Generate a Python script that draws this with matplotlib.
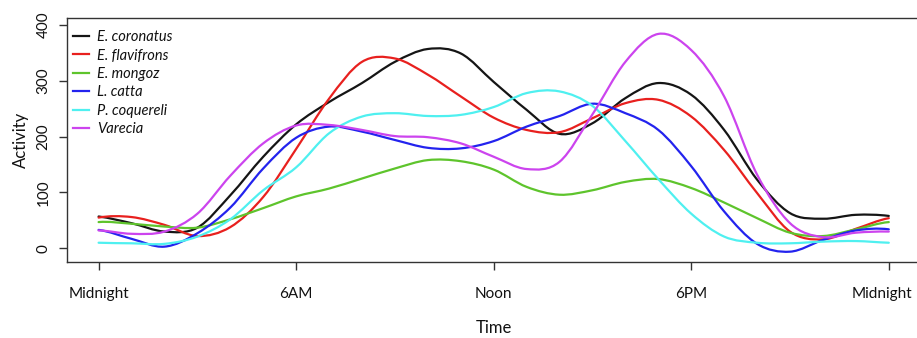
import matplotlib
matplotlib.use("Agg")
import matplotlib.pyplot as plt
from matplotlib.path import Path
from matplotlib.patches import PathPatch
from matplotlib.lines import Line2D
import matplotlib.transforms as mtransforms

plt.rcParams['font.family'] = ['Lato', 'DejaVu Sans']

hours = list(range(0, 25))
tick_hours = [0, 6, 12, 18, 24]
tick_labels = ["Midnight", "6AM", "Noon", "6PM", "Midnight"]
y_ticks = [0, 100, 200, 300, 400]

species = ["E. coronatus", "E. flavifrons", "E. mongoz", "L. catta", "P. coquereli", "Varecia"]
colors = ["#151515", "#e8201e", "#5ec42c", "#2323ee", "#4ff0f0", "#cc44ee"]

e_coronatus = [57, 45, 30, 37, 95, 164, 222, 262, 296, 334, 357, 349, 298, 248, 205, 224, 269, 296, 275, 212, 123, 63, 53, 60, 58]
e_flavifrons = [55, 56, 42, 22, 38, 92, 178, 268, 334, 340, 311, 272, 234, 212, 208, 233, 260, 266, 236, 176, 99, 30, 16, 35, 54]
e_mongoz = [47, 44, 39, 37, 52, 72, 93, 107, 125, 143, 158, 156, 141, 110, 96, 104, 119, 124, 108, 82, 54, 28, 22, 34, 47]
l_catta = [33, 17, 3, 27, 73, 143, 198, 218, 209, 194, 180, 179, 192, 218, 237, 259, 242, 212, 147, 66, 8, -6, 15, 32, 34]
p_coquereli = [10, 9, 8, 21, 52, 104, 145, 206, 236, 242, 237, 239, 253, 278, 281, 255, 192, 124, 62, 21, 10, 9, 12, 13, 10]
varecia = [32, 26, 30, 62, 130, 188, 220, 221, 212, 201, 199, 188, 164, 142, 155, 240, 334, 384, 355, 272, 132, 45, 20, 28, 30]

series = [e_coronatus, e_flavifrons, e_mongoz, l_catta, p_coquereli, varecia]


def smooth_path(x, y):
    """Smooth Bezier path (Catmull-Rom style) passing through every data point;
    the daily cycle wraps, so hour 24 neighbours hour 1 and hour 0 neighbours hour 23."""
    n = len(x)
    verts = [(x[0], y[0])]
    codes = [Path.MOVETO]
    for i in range(n - 1):
        y_prev = y[i - 1] if i > 0 else y[n - 2]
        y_next2 = y[i + 2] if i + 2 < n else y[1]
        dx = x[i + 1] - x[i]
        verts.append((x[i] + dx / 3, y[i] + (y[i + 1] - y_prev) / 6))
        verts.append((x[i + 1] - dx / 3, y[i + 1] - (y_next2 - y[i]) / 6))
        verts.append((x[i + 1], y[i + 1]))
        codes += [Path.CURVE4] * 3
    return Path(verts, codes)


W, H = 917, 338
fig = plt.figure(figsize=(W / 100, H / 100), dpi=100)
ax_left, ax_right, ax_top, ax_bottom = 67, 920.4, 18, 262
ax = fig.add_axes([ax_left / W, 1 - ax_bottom / H, (ax_right - ax_left) / W, (ax_bottom - ax_top) / H])

handles = []
for name, vals, c in zip(species, series, colors):
    patch = PathPatch(smooth_path(hours, vals), facecolor='none', edgecolor=c, lw=1.6,
                      capstyle='round', joinstyle='round')
    ax.add_patch(patch)
    handles.append(Line2D([], [], color=c, lw=1.6, label=name))

ax.set_xlim(-0.96, 24.96)
ax.set_ylim(-24.5, 412.5)

ax.set_xticks(tick_hours)
ax.set_xticklabels(tick_labels, fontsize=11)
ax.set_yticks(y_ticks)
ax.set_yticklabels([str(v) for v in y_ticks], fontsize=11, rotation=90, va='center')
ax.tick_params(axis='both', length=6, width=1, color='#333333', labelcolor='#111111')
ax.tick_params(axis='x', pad=12)
ax.tick_params(axis='y', pad=6)

# keep the last "Midnight" inside the picture, as in the reference
last = ax.get_xticklabels()[-1]
last.set_transform(last.get_transform() + mtransforms.ScaledTranslation(-7 / 100, 0, fig.dpi_scale_trans))

for s in ax.spines.values():
    s.set_color('#333333')
    s.set_linewidth(1)

ax.set_xlabel("Time", fontsize=12, labelpad=14, color='#111111')
ax.set_ylabel("Activity", fontsize=12, labelpad=5, color='#111111')

leg = ax.legend(handles=handles, loc='upper left', bbox_to_anchor=(0.007, 0.95), frameon=False,
                prop={'style': 'italic', 'size': 10.5}, handlelength=1.1,
                handletextpad=0.55, labelspacing=0.3, borderpad=0, borderaxespad=0)
for t in leg.get_texts():
    t.set_color('#111111')

fig.savefig("out.png", dpi=100)
